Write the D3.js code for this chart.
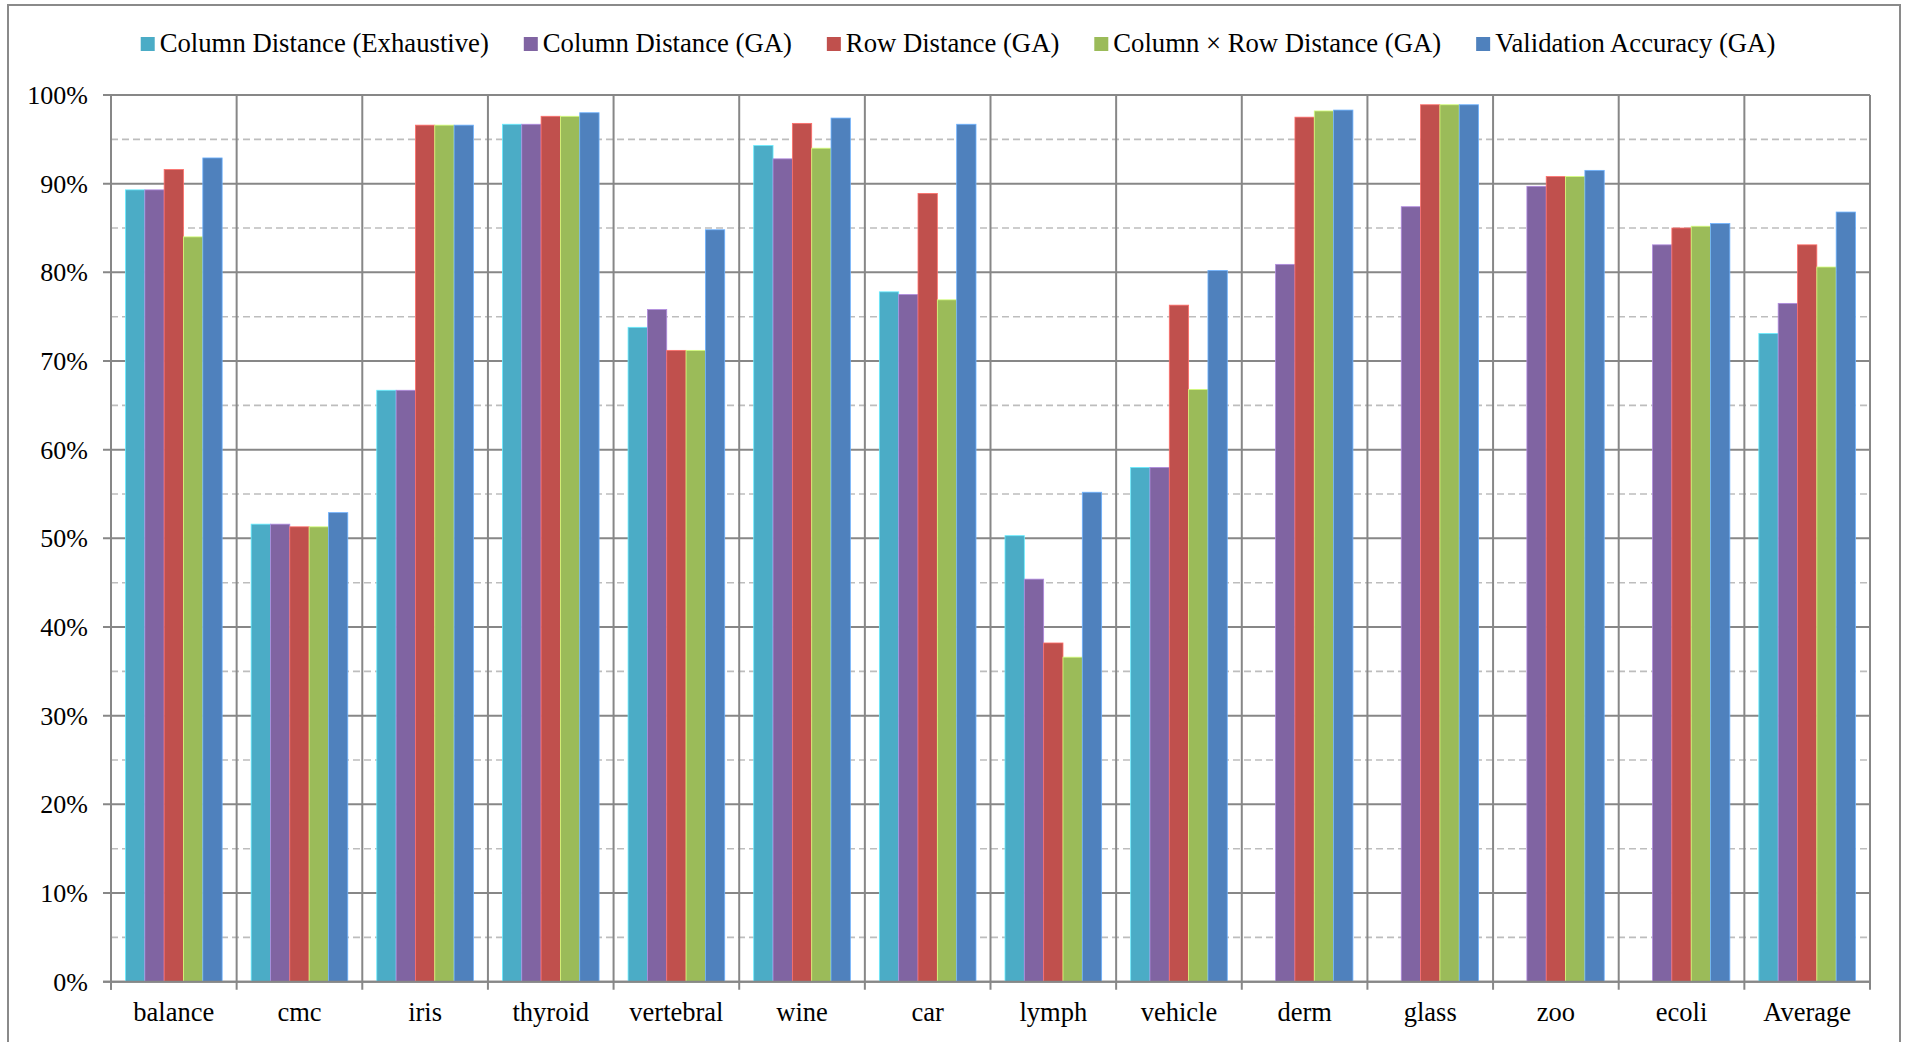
<!DOCTYPE html>
<html>
<head>
<meta charset="utf-8">
<script src="https://cdn.jsdelivr.net/npm/d3@7"></script>
<style>
  html, body { margin: 0; padding: 0; background: #fff; }
  svg { display: block; }
  text { font-family: "Liberation Serif", "Times New Roman", serif; fill: #000; }
</style>
</head>
<body>
<svg id="chart" width="1906" height="1042"></svg>
<script>
// Classification accuracy per data set, in percent
const categories = ["balance", "cmc", "iris", "thyroid", "vertebral", "wine", "car",
                    "lymph", "vehicle", "derm", "glass", "zoo", "ecoli", "Average"];

const seriesNames = ["Column Distance (Exhaustive)", "Column Distance (GA)", "Row Distance (GA)",
                     "Column \u00d7 Row Distance (GA)", "Validation Accuracy (GA)"];

const colExhaustive = [89.3, 51.6, 66.7, 96.7, 73.8, 94.3, 77.8, 50.3, 58.0, null, null, null, null, 73.1];
const colGA         = [89.3, 51.6, 66.7, 96.7, 75.8, 92.8, 77.5, 45.4, 58.0, 80.9, 87.4, 89.7, 83.1, 76.5];
const rowGA         = [91.6, 51.3, 96.6, 97.6, 71.2, 96.8, 88.9, 38.2, 76.3, 97.5, 98.9, 90.8, 85.0, 83.1];
const colRowGA      = [84.0, 51.3, 96.6, 97.6, 71.2, 94.0, 76.9, 36.6, 66.8, 98.2, 98.9, 90.8, 85.2, 80.6];
const validationGA  = [92.9, 52.9, 96.6, 98.0, 84.8, 97.4, 96.7, 55.2, 80.2, 98.3, 98.9, 91.5, 85.5, 86.8];

const yTicks = [0, 10, 20, 30, 40, 50, 60, 70, 80, 90, 100];
const yMinorTicks = [5, 15, 25, 35, 45, 55, 65, 75, 85, 95];

const colors = ["#4BACC6", "#8064A2", "#C0504D", "#9BBB59", "#4F81BD"];

const seriesValues = [colExhaustive, colGA, rowGA, colRowGA, validationGA];
const series = seriesNames.map((name, i) => ({ name, color: colors[i], values: seriesValues[i] }));

const svg = d3.select("#chart");

// Chart area frame
svg.append("rect")
  .attr("x", 8).attr("y", 5)
  .attr("width", 1892).attr("height", 1060)
  .attr("fill", "#fff")
  .attr("stroke", "#8a8a8a").attr("stroke-width", 2);

const plot = { left: 111, right: 1870, top: 95, bottom: 981.7 };

const x0 = d3.scaleBand().domain(categories).range([plot.left, plot.right]).padding(0);
const x1 = d3.scaleBand().domain(d3.range(series.length))
  .range([0, x0.bandwidth()]).paddingInner(0).paddingOuter(0.75);
const y = d3.scaleLinear().domain([0, 100]).range([plot.bottom, plot.top]);

const grid = svg.append("g");

// Minor dashed gridlines
grid.selectAll("line.minor").data(yMinorTicks).join("line")
  .attr("class", "minor")
  .attr("x1", plot.left).attr("x2", plot.right)
  .attr("y1", d => y(d)).attr("y2", d => y(d))
  .attr("stroke", "#bdbdbd").attr("stroke-width", 1.6)
  .attr("stroke-dasharray", "7,4");

// Major horizontal gridlines with outside ticks
grid.selectAll("line.major").data(yTicks).join("line")
  .attr("class", "major")
  .attr("x1", plot.left - 8).attr("x2", plot.right)
  .attr("y1", d => y(d)).attr("y2", d => y(d))
  .attr("stroke", "#878787").attr("stroke-width", 2);

// Vertical gridlines at category boundaries
const boundaries = categories.map(c => x0(c)).concat([plot.right]);
grid.selectAll("line.vert").data(boundaries).join("line")
  .attr("class", "vert")
  .attr("x1", d => d).attr("x2", d => d)
  .attr("y1", plot.top).attr("y2", plot.bottom + 8)
  .attr("stroke", "#878787").attr("stroke-width", 2);

// Bars
const groups = svg.append("g").selectAll("g").data(categories).join("g")
  .attr("transform", c => `translate(${x0(c)},0)`);

groups.selectAll("rect")
  .data((c, ci) => series.map((s, si) => ({ si, v: s.values[ci], color: s.color }))
    .filter(d => d.v !== null))
  .join("rect")
  .attr("x", d => x1(d.si))
  .attr("width", x1.bandwidth())
  .attr("y", d => y(d.v))
  .attr("height", d => y(0) - y(d.v))
  .attr("fill", d => d.color)
  .attr("stroke", d => d3.color(d.color).brighter(0.9))
  .attr("stroke-width", 0.8);

// Baseline redrawn over bars
svg.append("line")
  .attr("x1", plot.left - 8).attr("x2", plot.right)
  .attr("y1", y(0)).attr("y2", y(0))
  .attr("stroke", "#878787").attr("stroke-width", 2);
svg.append("line")
  .attr("x1", plot.left).attr("x2", plot.left)
  .attr("y1", plot.top).attr("y2", plot.bottom + 8)
  .attr("stroke", "#878787").attr("stroke-width", 2);

// Y-axis labels
const fmt = d3.format(".0%");
svg.append("g").selectAll("text").data(yTicks).join("text")
  .attr("x", 88).attr("y", d => y(d))
  .attr("dy", "0.34em")
  .attr("text-anchor", "end")
  .attr("font-size", "26px")
  .text(d => fmt(d / 100));

// Category labels
svg.append("g").selectAll("text").data(categories).join("text")
  .attr("x", c => x0(c) + x0.bandwidth() / 2)
  .attr("y", 1021)
  .attr("text-anchor", "middle")
  .attr("font-size", "26.5px")
  .text(c => c);

// Legend
const legend = svg.append("g");
const items = legend.selectAll("g").data(series).join("g");
items.append("rect")
  .attr("width", 14).attr("height", 14)
  .attr("y", 37)
  .attr("fill", d => d.color);
items.append("text")
  .attr("x", 19).attr("y", 52.3)
  .attr("font-size", "26.7px")
  .text(d => d.name);

let cursor = 0;
const widths = [];
items.each(function () {
  const w = 19 + this.querySelector("text").getComputedTextLength();
  widths.push(w);
});
const totalW = d3.sum(widths) + 35 * (widths.length - 1);
cursor = 958 - totalW / 2;
items.each(function (d, i) {
  d3.select(this).attr("transform", `translate(${cursor},0)`);
  cursor += widths[i] + 35;
});
</script>
</body>
</html>
